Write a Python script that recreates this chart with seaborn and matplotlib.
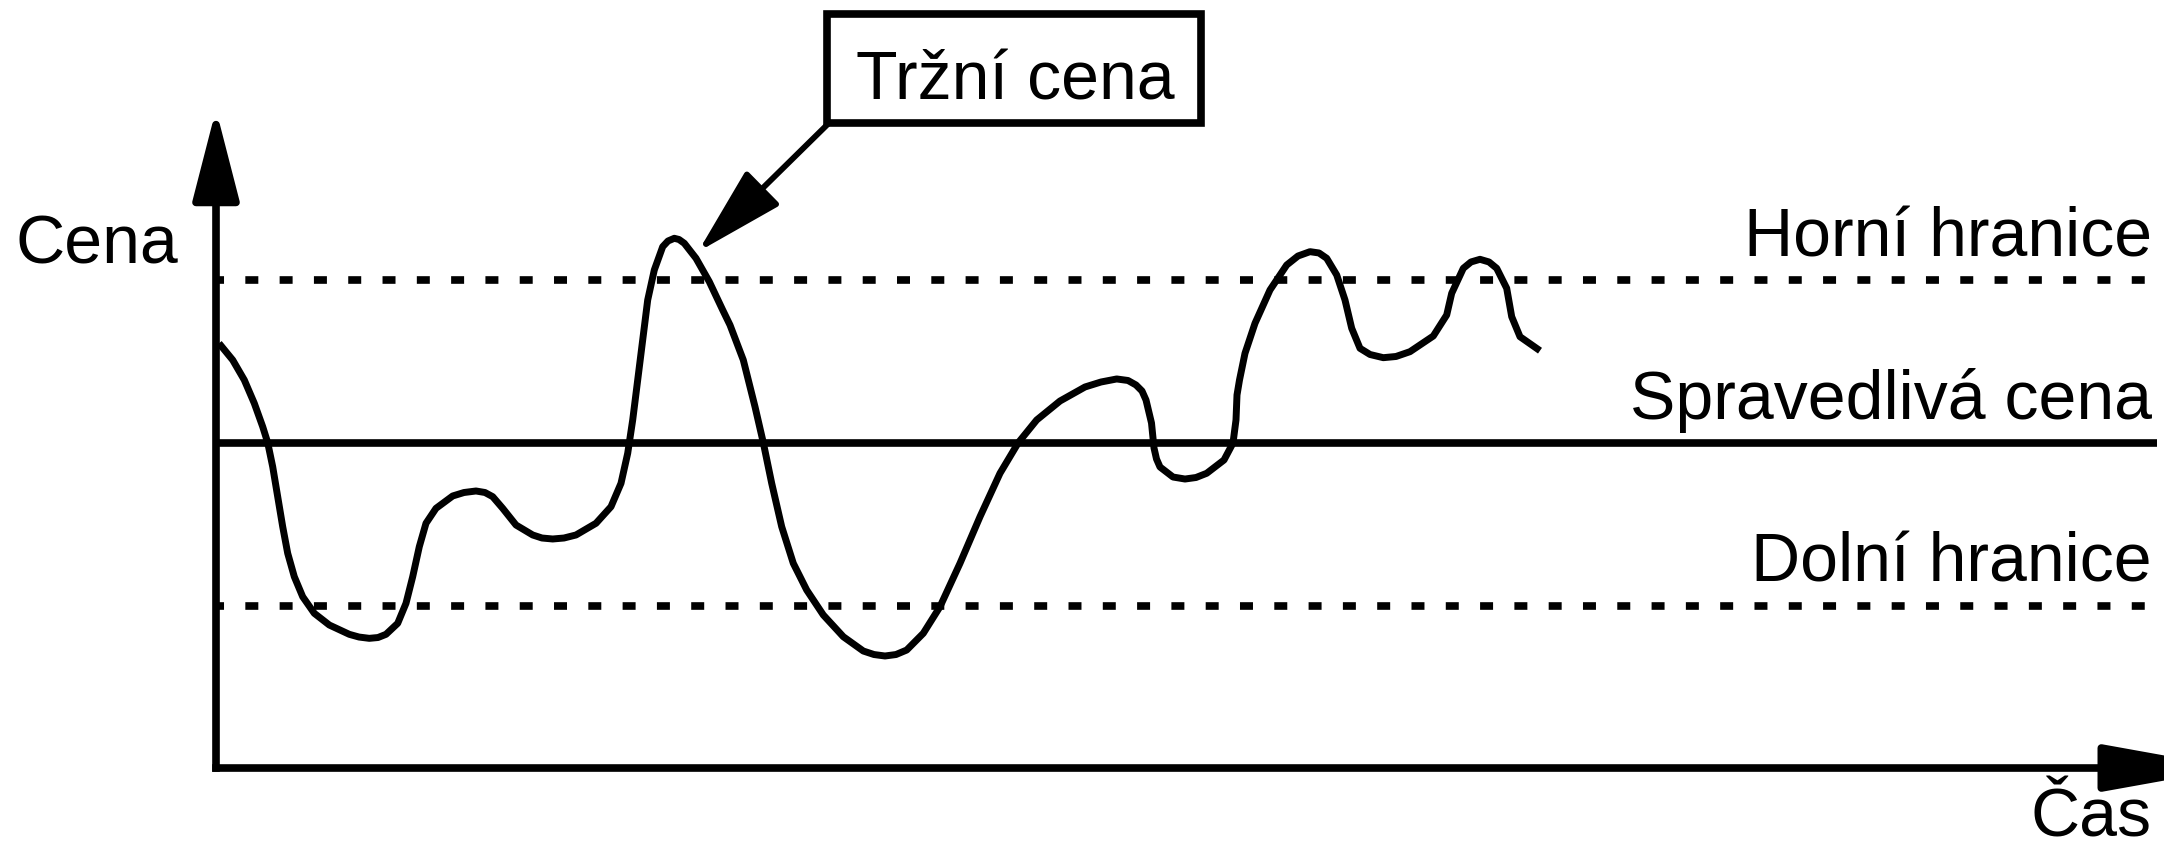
import matplotlib
matplotlib.use("Agg")
import matplotlib.pyplot as plt
import seaborn as sns
from matplotlib.patches import Rectangle

# Market price path over time (time and price in arbitrary units)
cas = [0.3, 1.67, 2.83, 3.83, 4.67, 5.17, 5.67, 6.17, 6.67, 7.17, 7.83, 8.67,
       9.83, 11.33, 13.33, 14.3, 15.33, 16.2, 17.0, 18.17, 19.0, 19.67, 20.33,
       21.0, 22.0, 23.67, 24.8, 26.0, 26.9, 27.67, 28.67, 30.0, 31.67, 32.6,
       33.67, 34.8, 36.0, 38.0, 39.5, 40.5, 41.17, 41.67, 42.17, 42.67, 43.17,
       43.83, 44.67, 45.2, 45.83, 46.3, 46.83, 48.0, 49.33, 50.67, 51.4, 52.73,
       53.9, 54.73, 55.57, 56.57, 57.73, 59.07, 60.73, 62.73, 64.73, 65.8,
       66.9, 68.0, 69.07, 70.73, 72.4, 74.4, 76.4, 78.4, 80.23, 82.07, 84.4,
       86.9, 88.5, 90.07, 91.2, 92.0, 92.6, 93.0, 93.55, 93.8, 94.05, 94.4,
       95.7, 96.9, 98.0, 99.07, 100.8, 101.7, 102.0, 102.1, 102.35, 102.9,
       103.9, 105.4, 107.07, 108.2, 109.4, 110.3, 111.07, 112.07, 112.9,
       113.57, 114.4, 115.4, 116.73, 118.0, 119.4, 121.73, 123.07, 123.57,
       124.73, 125.5, 126.4, 127.3, 128.07, 129.07, 129.57, 130.4, 132.4]
trzni_cena = [118.41, 115.32, 111.63, 107.33, 103.01, 100.06, 95.62, 90.09,
              84.55, 79.64, 75.32, 71.62, 68.56, 66.40, 64.68, 64.18, 63.94,
              64.09, 64.68, 66.71, 70.41, 75.32, 80.86, 85.18, 87.94, 90.22,
              90.86, 91.14, 90.86, 90.09, 87.94, 84.86, 83.02, 82.46, 82.28,
              82.46, 83.02, 85.18, 88.24, 92.56, 98.10, 104.25, 111.63, 119.02,
              126.40, 131.94, 136.24, 137.29, 137.79, 137.57, 136.87, 134.10,
              129.78, 124.55, 121.78, 115.32, 106.70, 100.06, 92.56, 84.55,
              77.79, 72.86, 68.25, 64.24, 61.60, 60.95, 60.68, 60.95, 61.78,
              64.87, 69.78, 77.79, 86.39, 94.41, 100.06, 104.25, 107.75,
              110.34, 111.26, 111.82, 111.54, 110.71, 109.60, 107.94, 103.69,
              99.08, 97.05, 95.57, 93.72, 93.35, 93.63, 94.41, 96.86, 100.0,
              104.25, 108.86, 111.63, 116.56, 122.10, 128.25, 132.86, 134.52,
              135.32, 135.08, 134.10, 131.02, 126.40, 121.18, 117.48, 116.34,
              115.75, 115.97, 116.86, 119.75, 123.63, 127.64, 132.25, 133.42,
              133.91, 133.42, 132.25, 128.56, 123.32, 119.62, 117.04]

# Price levels
spravedliva_cena = 100
horni_hranice = 130
dolni_hranice = 70

# Text
popisek_osy_y = "Cena"
popisek_osy_x = "Čas"
popisek_krivky = "Tržní cena"
popisky_urovni = ["Horní hranice", "Spravedlivá cena", "Dolní hranice"]

sns.set_theme(style="white")
plt.rcParams["font.family"] = ["Liberation Sans", "DejaVu Sans"]

FS = 49
fig = plt.figure(figsize=(21.64, 8.49), dpi=100)
ax = fig.add_axes([0, 0, 1, 1])
ax.set_xlim(-21.6, 194.8)
ax.set_ylim(25.05, 181.78)
ax.axis("off")

x_end = 194.1
lw_line = 5.5

# Fair price and the band around it
ax.plot([0, x_end], [spravedliva_cena] * 2, color="black", lw=lw_line,
        solid_capstyle="butt")
for lvl in (horni_hranice, dolni_hranice):
    ax.plot([0, x_end], [lvl] * 2, color="black", lw=lw_line,
            linestyle=(0.65, (1.70, 2.79)), dash_capstyle="butt")

# Market price curve
sns.lineplot(x=cas, y=trzni_cena, ax=ax, color="black", lw=5.0, sort=False,
             estimator=None, solid_joinstyle="round", solid_capstyle="butt")

# Axes drawn as arrows
ax.annotate("", xy=(0, 161.6), xytext=(0, 39.3), annotation_clip=False,
            arrowprops=dict(arrowstyle="-|>,head_length=2.8,head_width=0.72",
                            color="black", lw=lw_line, mutation_scale=20,
                            shrinkA=0, shrinkB=0, capstyle="butt"))
ax.annotate("", xy=(201.8, 40), xytext=(-0.38, 40), annotation_clip=False,
            arrowprops=dict(arrowstyle="-|>,head_length=4.0,head_width=0.72",
                            color="black", lw=lw_line, mutation_scale=20,
                            shrinkA=0, shrinkB=0, capstyle="butt"))

# Level labels on the right
for lvl, txt in zip((horni_hranice, spravedliva_cena, dolni_hranice), popisky_urovni):
    ax.text(193.6, lvl + 4.5, txt, ha="right", va="baseline", fontsize=FS,
            color="black")

ax.text(-20.1, 133.2, popisek_osy_y, ha="left", va="baseline", fontsize=FS,
        color="black")
ax.text(193.6, 27.3, popisek_osy_x, ha="right", va="baseline", fontsize=FS,
        color="black")

# Callout box pointing at the price peak
ax.add_patch(Rectangle((61.1, 159.1), 37.4, 20.1, facecolor="white",
                       edgecolor="black", lw=lw_line, zorder=5))
ax.text(79.9, 163.5, popisek_krivky, ha="center", va="baseline", fontsize=FS,
        color="black", zorder=6)
ax.annotate("", xy=(48.2, 135.3), xytext=(61.2, 158.9),
            arrowprops=dict(arrowstyle="-|>,head_length=2.8,head_width=0.75",
                            color="black", lw=4.2, mutation_scale=20,
                            shrinkA=0, shrinkB=0), zorder=4)

fig.savefig("out.png", dpi=100, facecolor="white")
